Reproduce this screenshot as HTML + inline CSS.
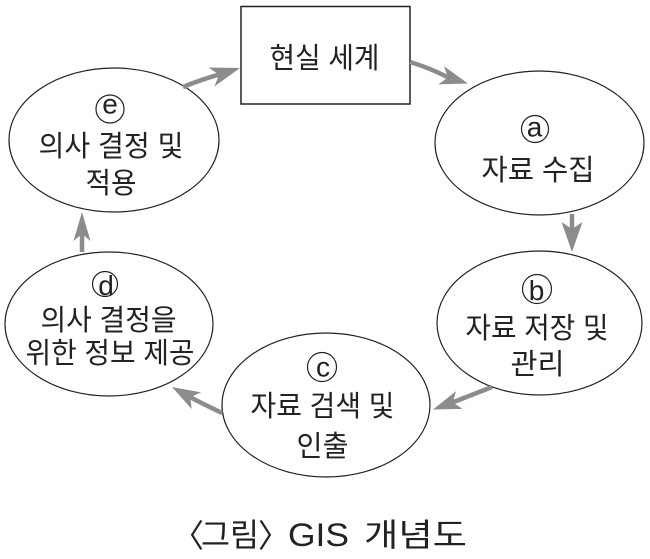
<!DOCTYPE html>
<html>
<head>
<meta charset="utf-8">
<style>
  html, body { margin:0; padding:0; background:#fff; }
  svg { display:block; }
  text { font-family: "Liberation Sans", "Noto Sans CJK KR", "NanumGothic", sans-serif; fill:#222; }
</style>
</head>
<body>
<svg width="650" height="559" viewBox="0 0 650 559" xmlns="http://www.w3.org/2000/svg">
  <rect x="0" y="0" width="650" height="559" fill="#fff"/>

  <!-- Box -->
  <rect x="241" y="6.5" width="169" height="97.5" fill="#fff" stroke="#222" stroke-width="1.5"/>

  <!-- Ellipses -->
  <g fill="#fff" stroke="#222" stroke-width="1.2">
    <ellipse cx="114" cy="140" rx="105" ry="72"/>
    <ellipse cx="539.5" cy="143" rx="104.5" ry="72"/>
    <ellipse cx="539.5" cy="323" rx="102.5" ry="72"/>
    <ellipse cx="326" cy="405" rx="104" ry="72"/>
    <ellipse cx="109" cy="324" rx="104" ry="72"/>
  </g>

  <!-- Arrows -->
  <g stroke="#8c8c8c" stroke-width="4.5" fill="none" stroke-linecap="butt">
    <path d="M183,87 Q200,80 219,74.6"/>
    <path d="M410,62 Q430,68 448,77.4"/>
    <path d="M572,214 L572,232"/>
    <path d="M492,387 L452.7,402.4"/>
    <path d="M222,413 Q205,405 190.3,397.3"/>
    <path d="M82,252 L82,234"/>
  </g>
  <g fill="#8c8c8c" stroke="none">
    <polygon points="240,68 214.4,86.5 219,74.6 208.4,67.5"/>
    <polygon points="468,83.5 438.4,84.4 447.9,77.4 444,66.2"/>
    <polygon points="572,252 561.5,222 572,229 582.5,222"/>
    <polygon points="433,409.5 462.5,408.9 452.7,402.4 456.1,391.1"/>
    <polygon points="172,387 201.1,392.4 190.3,397.3 191.7,409"/>
    <polygon points="82,212 73.5,241 82,234 90.5,241"/>
  </g>

  <!-- Circled letters -->
  <g fill="none" stroke="#222" stroke-width="1.2">
    <circle cx="110" cy="109" r="14"/>
    <circle cx="535" cy="129" r="13.5"/>
    <circle cx="537" cy="289" r="14.5"/>
    <circle cx="322" cy="367" r="14.5"/>
    <circle cx="105" cy="284" r="12.5"/>
  </g>
  <g font-size="28" text-anchor="middle">
    <text x="110" y="113.5">e</text>
    <text x="534.5" y="136.5">a</text>
    <text x="536.5" y="300">b</text>
    <text x="323" y="376.5">c</text>
    <text x="106" y="295">d</text>
  </g>

  <!-- Labels -->
  <g font-size="29" text-anchor="middle">
    <text x="324.5" y="68" textLength="110" lengthAdjust="spacingAndGlyphs">현실 세계</text>

    <text x="111" y="156" textLength="145" lengthAdjust="spacingAndGlyphs">의사 결정 및</text>
    <text x="111" y="193" textLength="51" lengthAdjust="spacingAndGlyphs">적용</text>

    <text x="538" y="180" textLength="113" lengthAdjust="spacingAndGlyphs">자료 수집</text>

    <text x="537" y="338" textLength="143" lengthAdjust="spacingAndGlyphs">자료 저장 및</text>
    <text x="537.5" y="374" textLength="54" lengthAdjust="spacingAndGlyphs">관리</text>

    <text x="322.5" y="416" textLength="144" lengthAdjust="spacingAndGlyphs">자료 검색 및</text>
    <text x="322.5" y="456" textLength="52" lengthAdjust="spacingAndGlyphs">인출</text>

    <text x="108.5" y="330" textLength="136" lengthAdjust="spacingAndGlyphs">의사 결정을</text>
    <text x="110" y="363" textLength="169" lengthAdjust="spacingAndGlyphs">위한 정보 제공</text>
  </g>

  <!-- Caption -->
  <g font-size="32">
    <text x="172" y="547">〈</text>
    <text x="201" y="546" textLength="58" lengthAdjust="spacingAndGlyphs">그림</text>
    <text x="258" y="547">〉</text>
    <text x="288" y="546" textLength="61" lengthAdjust="spacingAndGlyphs">GIS</text>
    <text x="364" y="546" textLength="103" lengthAdjust="spacingAndGlyphs">개념도</text>
  </g>
</svg>
</body>
</html>
